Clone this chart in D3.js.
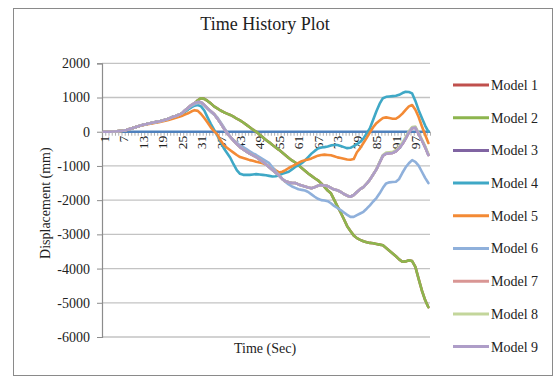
<!DOCTYPE html>
<html>
<head>
<meta charset="utf-8">
<script src="https://cdn.jsdelivr.net/npm/d3@7"></script>
<style>
  html, body { margin: 0; padding: 0; background: #fff; }
  svg { display: block; font-family: "Liberation Serif", "Times New Roman", serif; }
</style>
</head>
<body>
<svg id="chart" width="557" height="377"></svg>
<script>
// Time steps 1..101 on the category axis; every sixth one is labelled.
const timeSteps = d3.range(1, 102);
const xTickLabels = [1, 7, 13, 19, 25, 31, 37, 43, 49, 55, 61, 67, 73, 79, 85, 91, 97];
const yTickValues = [2000, 1000, 0, -1000, -2000, -3000, -4000, -5000, -6000];

const modelNames = ["Model 1", "Model 2", "Model 3", "Model 4", "Model 5", "Model 6", "Model 7", "Model 8", "Model 9"];
const modelColors = ["#C0504D", "#8DB54E", "#8064A2", "#3FA8C6", "#F38A35", "#8FB0DB", "#D99694", "#C3D69B", "#AE9DC8"];

// Displacement (mm) at each time step
const model1 = [0,0,0,5,10,20,30,50,80,110,140,170,200,220,240,260,280,300,320,350,380,420,450,490,530,
  590,660,740,830,920,980,960,900,830,740,
  680,620,570,530,490,440,380,330,270,200,
  130,60,0,-80,-160,-240,-310,-390,-460,-530,
  -610,-690,-770,-840,-900,-980,-1060,-1140,-1220,-1290,
  -1360,-1420,-1510,-1610,-1720,-1800,-1990,-2180,-2360,-2560,
  -2760,-2900,-3030,-3110,-3160,-3200,-3230,-3250,-3260,-3280,
  -3300,-3320,-3400,-3480,-3560,-3640,-3730,-3800,-3790,-3760,
  -3780,-3950,-4300,-4640,-4920,-5130];
const model2 = [0,0,0,5,10,20,30,50,80,110,140,170,200,220,240,260,280,300,320,350,380,420,450,490,530,
  590,660,740,830,920,980,960,900,830,740,
  680,620,570,530,490,440,380,330,270,200,
  130,60,0,-80,-160,-240,-310,-390,-460,-530,
  -610,-690,-770,-840,-900,-980,-1060,-1140,-1220,-1290,
  -1360,-1420,-1510,-1610,-1720,-1800,-1990,-2180,-2360,-2560,
  -2760,-2900,-3030,-3110,-3160,-3200,-3230,-3250,-3260,-3280,
  -3300,-3320,-3400,-3480,-3560,-3640,-3730,-3800,-3790,-3760,
  -3780,-3950,-4300,-4640,-4920,-5130];
const model3 = [0,0,0,5,10,20,30,50,80,110,140,170,200,220,240,260,280,300,320,350,380,420,450,490,530,
  620,700,780,840,870,860,780,680,600,520,
  390,250,100,-40,-150,-260,-360,-450,-520,-580,
  -640,-690,-740,-810,-880,-960,-1040,-1120,-1200,-1280,
  -1380,-1450,-1480,-1500,-1500,-1540,-1570,-1600,-1630,-1650,
  -1620,-1580,-1560,-1570,-1590,-1640,-1690,-1710,-1760,-1820,
  -1870,-1900,-1850,-1760,-1680,-1620,-1520,-1400,-1250,-1100,
  -900,-700,-640,-630,-620,-570,-480,-360,-200,-20,
  110,120,-60,-250,-450,-680];
const model4 = [0,0,0,5,10,20,30,50,80,110,140,170,200,220,240,260,280,300,320,350,380,420,450,490,530,
  580,650,710,760,780,740,620,420,230,60,
  -110,-300,-480,-620,-760,-950,-1120,-1230,-1260,-1260,
  -1260,-1250,-1240,-1250,-1260,-1270,-1290,-1310,-1300,-1270,
  -1230,-1200,-1170,-1100,-1030,-980,-920,-840,-740,-640,
  -560,-490,-460,-450,-430,-400,-390,-390,-420,-450,
  -480,-470,-420,-360,-300,-200,-50,100,350,600,
  820,980,1020,1030,1040,1050,1080,1130,1170,1160,
  1120,900,630,400,180,0];
const model5 = [0,0,0,5,10,20,30,50,80,110,140,170,190,210,225,245,260,280,300,320,345,370,400,430,460,
  500,540,590,630,610,520,400,270,130,20,
  -80,-250,-390,-470,-540,-610,-680,-740,-770,-800,
  -830,-850,-880,-900,-920,-960,-1010,-1060,-1130,-1190,
  -1170,-1120,-1060,-1010,-960,-910,-860,-830,-810,-780,
  -740,-700,-680,-670,-680,-690,-720,-750,-770,-790,
  -810,-820,-800,-600,-480,-330,-180,-20,130,250,
  330,400,420,400,380,380,440,530,640,740,
  780,640,430,160,-90,-330];
const model6 = [0,0,0,5,10,20,30,50,80,110,140,170,200,220,240,260,280,300,320,350,380,420,450,490,530,
  600,680,750,800,830,840,780,680,580,500,
  420,280,130,-20,-150,-240,-320,-400,-450,-510,
  -570,-630,-680,-740,-800,-860,-920,-1040,-1160,-1270,
  -1380,-1470,-1540,-1600,-1640,-1680,-1700,-1720,-1760,-1830,
  -1900,-1960,-2000,-2010,-2030,-2090,-2170,-2230,-2290,-2360,
  -2430,-2490,-2490,-2440,-2390,-2340,-2250,-2150,-2040,-1940,
  -1800,-1640,-1510,-1480,-1470,-1460,-1380,-1200,-1040,-920,
  -830,-880,-990,-1170,-1350,-1500];
const model7 = [0,0,0,5,10,20,30,50,80,110,140,170,200,220,240,260,280,300,320,350,380,420,450,490,530,
  620,700,780,840,870,860,780,680,600,520,
  390,250,100,-40,-150,-260,-360,-450,-520,-580,
  -640,-690,-740,-810,-880,-960,-1040,-1120,-1200,-1280,
  -1380,-1450,-1480,-1500,-1500,-1540,-1570,-1600,-1630,-1650,
  -1620,-1580,-1560,-1570,-1590,-1640,-1690,-1710,-1760,-1820,
  -1870,-1900,-1850,-1760,-1680,-1620,-1520,-1400,-1250,-1100,
  -900,-700,-640,-630,-620,-570,-480,-360,-200,-20,
  110,120,-60,-250,-450,-680];
const model8 = [0,0,0,5,10,20,30,50,80,110,140,170,200,220,240,260,280,300,320,350,380,420,450,490,530,
  620,700,780,840,870,860,780,680,600,520,
  390,250,100,-40,-150,-260,-360,-450,-520,-580,
  -640,-690,-740,-810,-880,-960,-1040,-1120,-1200,-1280,
  -1380,-1450,-1480,-1500,-1500,-1540,-1570,-1600,-1630,-1650,
  -1620,-1580,-1560,-1570,-1590,-1640,-1690,-1710,-1760,-1820,
  -1870,-1900,-1850,-1760,-1680,-1620,-1520,-1400,-1250,-1100,
  -880,-680,-610,-600,-590,-540,-440,-320,-160,20,
  140,150,-30,-220,-420,-650];
const model9 = [0,0,0,5,10,20,30,50,80,110,140,170,200,220,240,260,280,300,320,350,380,420,450,490,530,
  620,700,780,840,870,860,780,680,600,520,
  390,250,100,-40,-150,-260,-360,-450,-520,-580,
  -640,-690,-740,-810,-880,-960,-1040,-1120,-1200,-1280,
  -1380,-1450,-1480,-1500,-1500,-1540,-1570,-1600,-1630,-1650,
  -1620,-1580,-1560,-1570,-1590,-1640,-1690,-1710,-1760,-1820,
  -1870,-1900,-1850,-1760,-1680,-1620,-1520,-1400,-1250,-1100,
  -900,-700,-640,-630,-620,-570,-480,-360,-200,-20,
  110,120,-60,-250,-450,-680];

const seriesValues = [model1, model2, model3, model4, model5, model6, model7, model8, model9];

const svg = d3.select("#chart");
const plot = { left: 102, right: 430, top: 63.3, bottom: 337 };

// Outer chart frame
svg.append("rect")
  .attr("x", 13.5).attr("y", 8.5).attr("width", 539).attr("height", 367)
  .attr("fill", "#fff").attr("stroke", "#8a8a8a").attr("stroke-width", 1);

const x = d3.scaleLinear().domain([0.5, timeSteps.length + 0.5]).range([plot.left, plot.right]);
const y = d3.scaleLinear().domain([-6000, 2000]).range([plot.bottom, plot.top]);

// Horizontal gridlines
svg.append("g")
  .selectAll("line")
  .data(yTickValues)
  .join("line")
  .attr("x1", plot.left).attr("x2", plot.right)
  .attr("y1", d => y(d)).attr("y2", d => y(d))
  .attr("stroke", "#c3c3c3").attr("stroke-width", 1.3);

// Vertical axis (plain hyphen for negative values)
const yAxis = svg.append("g")
  .attr("transform", `translate(${plot.left},0)`)
  .call(d3.axisLeft(y).tickValues(yTickValues).tickSize(5).tickPadding(7).tickFormat(d => String(d)));
yAxis.select(".domain").attr("stroke", "#8c8c8c").attr("stroke-width", 1.2);
yAxis.selectAll(".tick line").attr("stroke", "#8c8c8c");
yAxis.selectAll(".tick text")
  .attr("font-family", "Liberation Serif, serif").attr("font-size", 14).attr("fill", "#222");

// Category tick marks at every time step boundary
const xTicks = svg.append("g")
  .attr("transform", `translate(0,${y(0)})`)
  .call(d3.axisBottom(x).tickValues(d3.range(0.5, timeSteps.length + 1, 1)).tickSize(4).tickFormat(""));
xTicks.select(".domain").remove();
xTicks.selectAll(".tick line").attr("stroke", "#9a9a9a").attr("stroke-width", 0.8);

// Zero reference line along the category axis
svg.append("line")
  .attr("x1", plot.left).attr("x2", plot.right)
  .attr("y1", y(0)).attr("y2", y(0))
  .attr("stroke", "#4F81BD").attr("stroke-width", 2.6);

// Category labels, rotated
const xLabels = svg.append("g")
  .attr("transform", `translate(0,${y(0)})`)
  .call(d3.axisBottom(x).tickValues(xTickLabels).tickSize(0).tickPadding(0));
xLabels.select(".domain").remove();
xLabels.selectAll(".tick text")
  .attr("font-family", "Liberation Serif, serif").attr("font-size", 13.5).attr("fill", "#222")
  .attr("text-anchor", "end")
  .attr("transform", "rotate(-90)")
  .attr("x", -4).attr("y", 0).attr("dy", "0.33em");

// Series lines
const line = d3.line()
  .x((d, i) => x(timeSteps[i]))
  .y(d => y(d));

svg.append("g")
  .selectAll("path")
  .data(seriesValues)
  .join("path")
  .attr("d", d => line(d))
  .attr("fill", "none")
  .attr("stroke", (d, i) => modelColors[i])
  .attr("stroke-width", 2.6)
  .attr("stroke-linejoin", "round")
  .attr("stroke-linecap", "round");

// Title and axis titles
svg.append("text")
  .attr("x", 265).attr("y", 30)
  .attr("text-anchor", "middle").attr("font-size", 18).attr("fill", "#222")
  .text("Time History Plot");

svg.append("text")
  .attr("x", 265).attr("y", 353)
  .attr("text-anchor", "middle").attr("font-size", 14).attr("fill", "#222")
  .text("Time (Sec)");

svg.append("text")
  .attr("transform", `translate(50,${(plot.top + plot.bottom) / 2 + 3}) rotate(-90)`)
  .attr("text-anchor", "middle").attr("font-size", 14).attr("fill", "#222")
  .text("Displacement (mm)");

// Legend
const legend = svg.append("g")
  .selectAll("g")
  .data(modelNames)
  .join("g")
  .attr("transform", (d, i) => `translate(453,${85 + i * 32.7})`);
legend.append("line")
  .attr("x1", 0).attr("x2", 36).attr("y1", 0).attr("y2", 0)
  .attr("stroke", (d, i) => modelColors[i]).attr("stroke-width", 3);
legend.append("text")
  .attr("x", 38).attr("y", 0).attr("dy", "0.35em")
  .attr("font-size", 14).attr("fill", "#222")
  .text(d => d);
</script>
</body>
</html>
